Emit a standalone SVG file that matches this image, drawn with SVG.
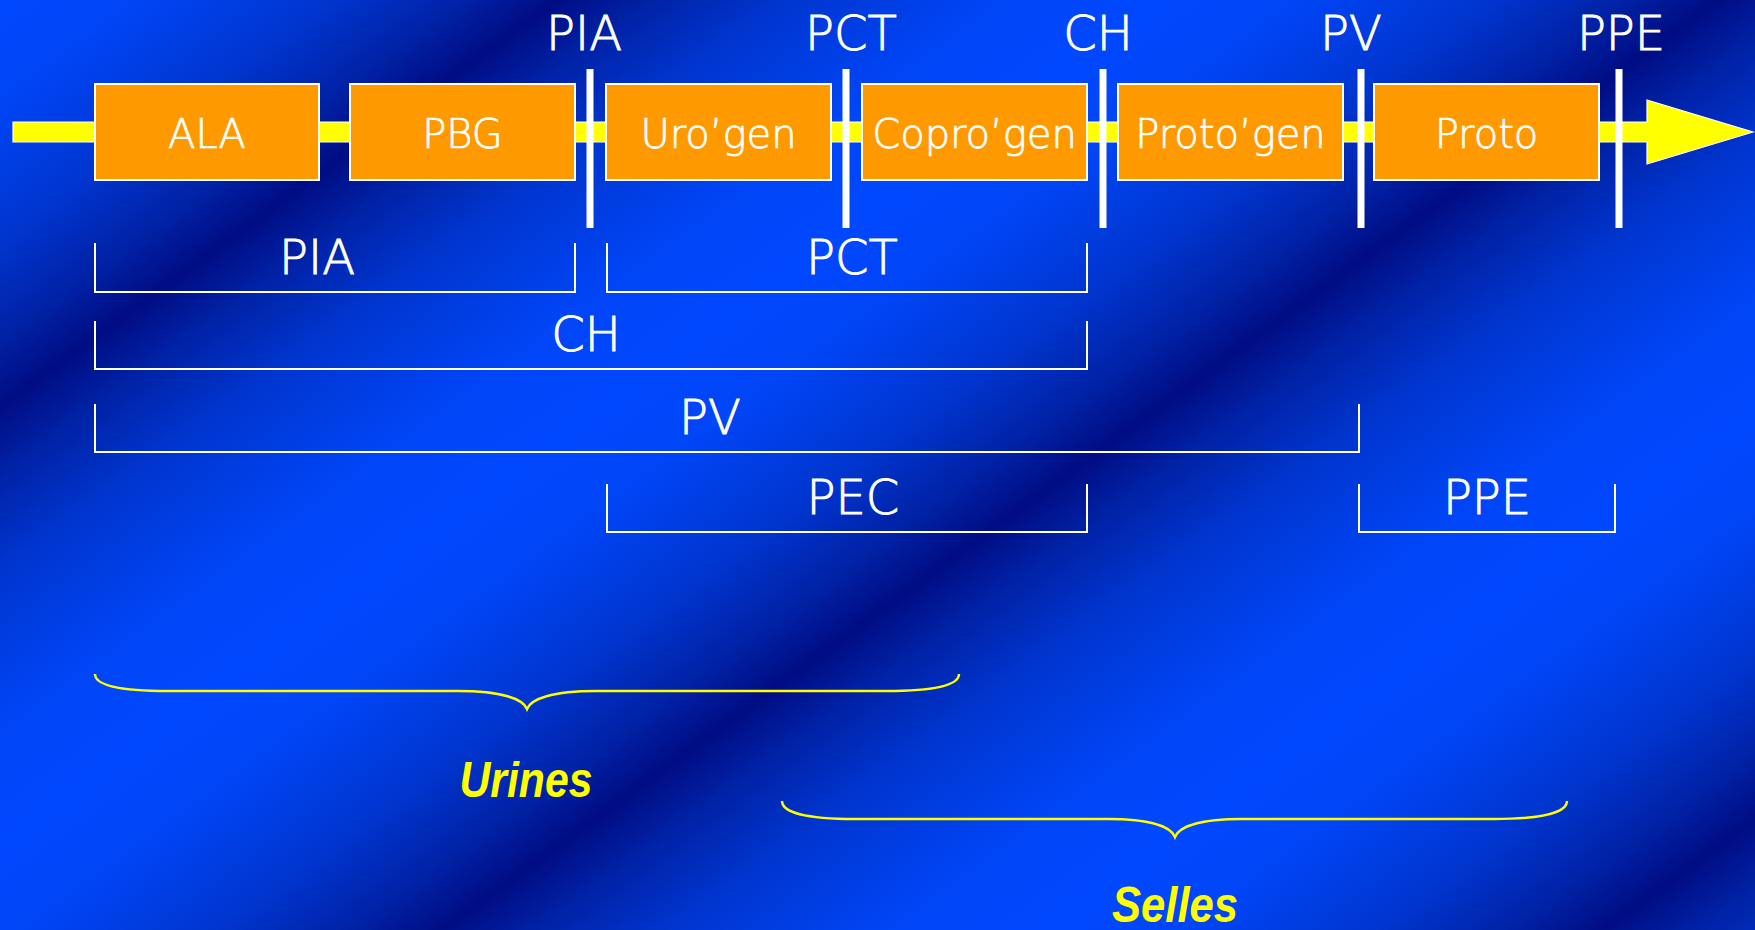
<svg xmlns="http://www.w3.org/2000/svg" width="1755" height="930" viewBox="0 0 1755 930">
<defs>
<linearGradient id="bg" gradientUnits="userSpaceOnUse" x1="0" y1="0" x2="403" y2="552.5" spreadMethod="repeat">
<stop offset="0" stop-color="#0048ff"/>
<stop offset="0.12" stop-color="#0045f6"/>
<stop offset="0.28" stop-color="#0036d0"/>
<stop offset="0.40" stop-color="#0022a6"/>
<stop offset="0.48" stop-color="#000d84"/>
<stop offset="0.56" stop-color="#0022a6"/>
<stop offset="0.68" stop-color="#0036d0"/>
<stop offset="0.86" stop-color="#0045f6"/>
<stop offset="1" stop-color="#0048ff"/>
</linearGradient>
<style>
.box{fill:#ff9900;stroke:#ffffff;stroke-width:2}
.bt{font-family:"DejaVu Sans",sans-serif;font-weight:200;font-size:40px;fill:#ffffff;stroke:#ffffff;stroke-width:0.7;text-anchor:middle}
.lb{font-family:"DejaVu Sans",sans-serif;font-weight:200;font-size:48px;fill:#ffffff;stroke:#ffffff;stroke-width:0.9;text-anchor:middle}
.sep{stroke:#ffffff;stroke-width:7;fill:none}
.brk{stroke:#ffffff;stroke-width:2;fill:none}
.brace{stroke:#ffff00;stroke-width:2.5;fill:none}
.yl{font-family:"Liberation Sans",Arial,sans-serif;font-weight:bold;font-style:italic;font-size:50px;fill:#ffff00;text-anchor:middle}
</style>
</defs>
<rect x="0" y="0" width="1755" height="930" fill="url(#bg)"/>
<g id="connectors">
<polygon id="axis" points="13,122 1647,122 1647,100 1753,132 1647,164 1647,142 13,142" fill="#ffff00" stroke="#ffffff" stroke-width="1.2"/>
<line class="sep" x1="590" y1="69" x2="590" y2="228"/>
<line class="sep" x1="846" y1="69" x2="846" y2="228"/>
<line class="sep" x1="1103" y1="69" x2="1103" y2="228"/>
<line class="sep" x1="1361" y1="69" x2="1361" y2="228"/>
<line class="sep" x1="1619" y1="69" x2="1619" y2="228"/>
<path class="brk" d="M95,243 V292 H575 V243"/>
<path class="brk" d="M607,243 V292 H1087 V243"/>
<path class="brk" d="M95,321 V369 H1087 V321"/>
<path class="brk" d="M95,404 V452 H1359 V404"/>
<path class="brk" d="M607,484 V532 H1087 V484"/>
<path class="brk" d="M1359,484 V532 H1615 V484"/>
<path class="brace" d="M95,674 C95,685 118,691 168,691 L458,691 C502,691 523,699 527,709 C531,699 552,691 596,691 L886,691 C936,691 959,685 959,674"/>
<path class="brace" d="M782,801 C782,812 805,819 855,819 L1108,819 C1152,819 1171,827 1175,837 C1179,827 1198,819 1242,819 L1494,819 C1544,819 1567,812 1567,801"/>
</g>
<g id="top-labels">
<text class="lb" x="584" y="50">PIA</text>
<text class="lb" x="851" y="50">PCT</text>
<text class="lb" x="1098" y="50">CH</text>
<text class="lb" x="1351" y="50">PV</text>
<text class="lb" x="1621" y="50">PPE</text>
</g>
<g id="node-ala"><rect class="box" x="95" y="84" width="224" height="96"/><text class="bt" x="207" y="148">ALA</text></g>
<g id="node-pbg"><rect class="box" x="350" y="84" width="225" height="96"/><text class="bt" x="462.5" y="148">PBG</text></g>
<g id="node-urogen"><rect class="box" x="606" y="84" width="225" height="96"/><text class="bt" x="718.5" y="148">Uro’gen</text></g>
<g id="node-coprogen"><rect class="box" x="862" y="84" width="225" height="96"/><text class="bt" x="974.5" y="148">Copro’gen</text></g>
<g id="node-protogen"><rect class="box" x="1118" y="84" width="225" height="96"/><text class="bt" x="1230.5" y="148">Proto’gen</text></g>
<g id="node-proto"><rect class="box" x="1374" y="84" width="225" height="96"/><text class="bt" x="1486.5" y="148">Proto</text></g>
<g id="range-labels">
<text class="lb" x="317" y="274">PIA</text>
<text class="lb" x="852" y="274">PCT</text>
<text class="lb" x="586" y="351">CH</text>
<text class="lb" x="710" y="434">PV</text>
<text class="lb" x="853" y="514">PEC</text>
<text class="lb" x="1487" y="514">PPE</text>
</g>
<g id="excretion-labels">
<text class="yl" x="526" y="797" textLength="133" lengthAdjust="spacingAndGlyphs">Urines</text>
<text class="yl" x="1175" y="922" textLength="126" lengthAdjust="spacingAndGlyphs">Selles</text>
</g>
</svg>
